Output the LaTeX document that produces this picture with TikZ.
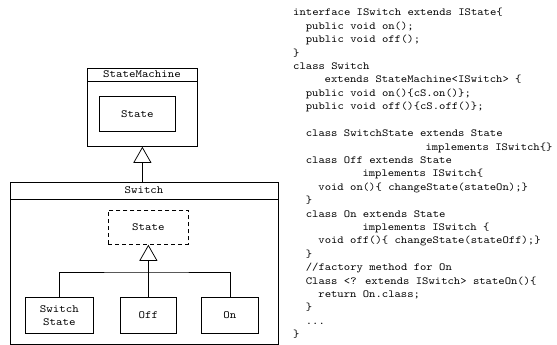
\documentclass[tikz,border=0pt]{standalone}
\usepackage{fontspec}
\usetikzlibrary{arrows.meta}
\newfontfamily\codefont{Latin Modern Mono}[FakeStretch=1.12]
\tikzset{
  box/.style={draw, line width=0.75pt, inner sep=0pt, anchor=north west},
  lbl/.style={font=\codefont\fontsize{11}{13}\selectfont, inner sep=0pt, align=center},
  code/.style={font=\codefont\fontsize{10.8}{13.4}\selectfont, inner sep=0pt, anchor=base west},
  inh/.style={line width=0.75pt, -{Triangle[open, length=16pt, width=18pt]}},
  conn/.style={line width=0.75pt}
}
\begin{document}
\begin{tikzpicture}[x=1pt,y=-1pt]
\useasboundingbox (0,0) rectangle (557,345);
% StateMachine
\node[box, minimum width=110pt, minimum height=78pt] (sm) at (87,68) {};
\draw[conn] ([yshift=-13pt]sm.north west) -- ([yshift=-13pt]sm.north east);
\node[lbl] (smt) at (142,74.5) {StateMachine};
\node[box, minimum width=76pt, minimum height=35pt] (st1) at (99,96) {};
\node[lbl] (st1t) at (st1.center) {State};
% Switch
\node[box, minimum width=268pt, minimum height=161.5pt] (sw) at (10,182) {};
\draw[conn] ([yshift=-17pt]sw.north west) -- ([yshift=-17pt]sw.north east);
\node[lbl] (swt) at (144,190.5) {Switch};
\draw[inh] (sm.south |- sw.north) -- (sm.south);
% inner
\node[box, dashed, dash pattern=on 4pt off 3pt, minimum width=80pt, minimum height=34pt] (st2) at (108,210) {};
\node[lbl] (st2t) at (st2.center) {State};
\node[box, minimum width=68pt, minimum height=36pt] (ss) at (25,297) {};
\node[lbl] (sst) at (ss.center) {Switch\\State};
\node[box, minimum width=56pt, minimum height=36pt] (off) at (120,297) {};
\node[lbl] (offt) at (off.center) {Off};
\node[box, minimum width=57pt, minimum height=36pt] (on) at (201,297) {};
\node[lbl] (ont) at (on.center) {On};
\coordinate (bar) at (148,272);
\draw[conn] (ss.north) |- (bar) -| (on.north);
\draw[inh] (off.north) -- (st2.south);
% code
\node[code] (c1) at (293+0*6.3,16+13.4*0) {interface ISwitch extends IState\{};
\node[code] (c2) at (293+2*6.3,16+13.4*1) {public void on();};
\node[code] (c3) at (293+2*6.3,16+13.4*2) {public void off();};
\node[code] (c4) at (293+0*6.3,16+13.4*3) {\}};
\node[code] (c5) at (293+0*6.3,16+13.4*4) {class Switch};
\node[code] (c6) at (293+5*6.3,16+13.4*5) {extends StateMachine<ISwitch> \{};
\node[code] (c7) at (293+2*6.3,16+13.4*6) {public void on()\{cS.on()\};};
\node[code] (c8) at (293+2*6.3,16+13.4*7) {public void off()\{cS.off()\};};
\node[code] (c10) at (293+2*6.3,16+13.4*9) {class SwitchState extends State};
\node[code] (c11) at (293+21*6.3,16+13.4*10) {implements ISwitch\{\}};
\node[code] (c12) at (293+2*6.3,16+13.4*11) {class Off extends State};
\node[code] (c13) at (293+11*6.3,16+13.4*12) {implements ISwitch\{};
\node[code] (c14) at (293+4*6.3,16+13.4*13) {void on()\{ changeState(stateOn);\}};
\node[code] (c15) at (293+2*6.3,16+13.4*14) {\}};
\node[code] (c16) at (293+2*6.3,16+13.4*15) {class On extends State};
\node[code] (c17) at (293+11*6.3,16+13.4*16) {implements ISwitch \{};
\node[code] (c18) at (293+4*6.3,16+13.4*17) {void off()\{ changeState(stateOff);\}};
\node[code] (c19) at (293+2*6.3,16+13.4*18) {\}};
\node[code] (c20) at (293+2*6.3,16+13.4*19) {//factory method for On};
\node[code] (c21) at (293+2*6.3,16+13.4*20) {Class <? extends ISwitch> stateOn()\{};
\node[code] (c22) at (293+4*6.3,16+13.4*21) {return On.class;};
\node[code] (c23) at (293+2*6.3,16+13.4*22) {\}};
\node[code] (c24) at (293+2*6.3,16+13.4*23) {...};
\node[code] (c25) at (293+0*6.3,16+13.4*24) {\}};
\end{tikzpicture}
\end{document}
